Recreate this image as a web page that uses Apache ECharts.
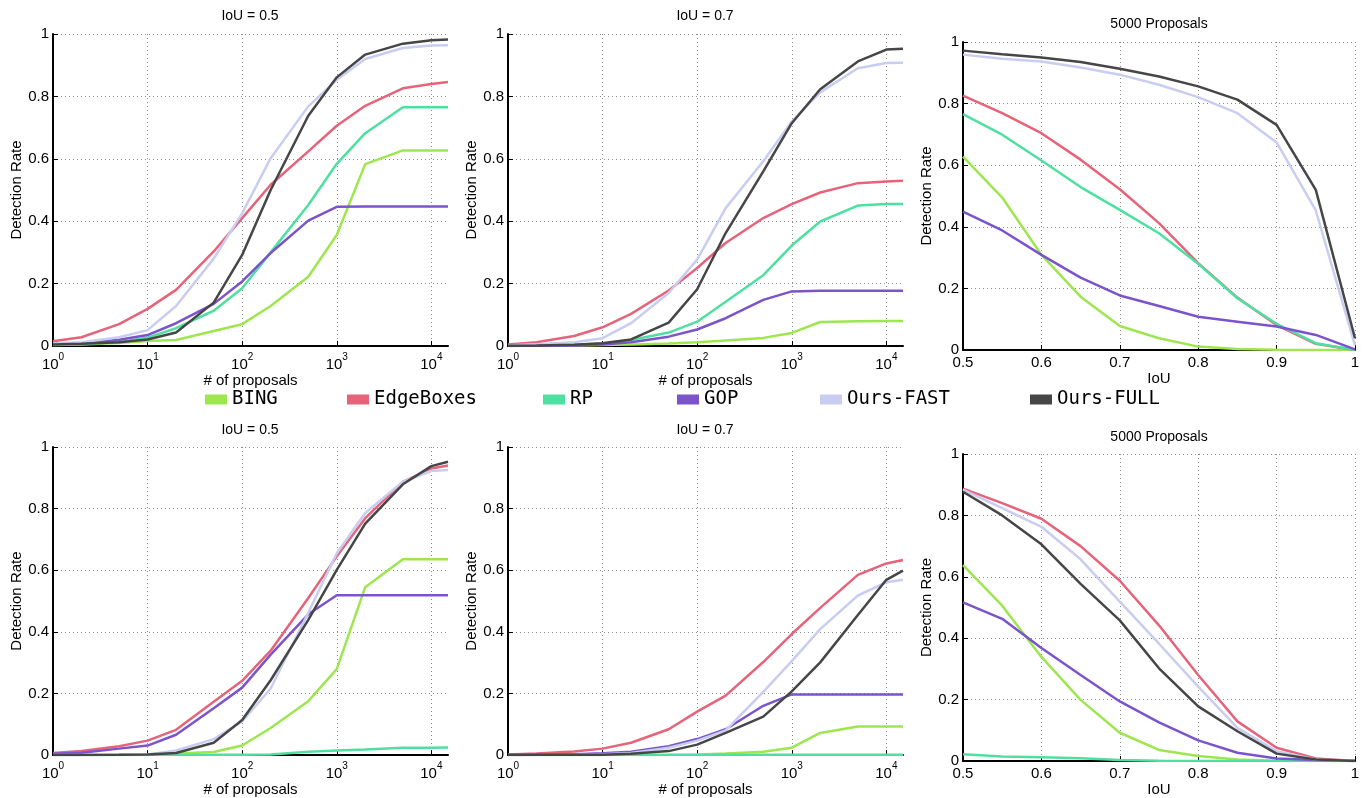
<!DOCTYPE html>
<html><head><meta charset="utf-8">
<script src="https://cdn.jsdelivr.net/npm/echarts@6/dist/echarts.min.js"></script>
<style>html,body{margin:0;padding:0;background:#fff}#c{width:1369px;height:798px}</style>
</head><body><div id="c"></div>
<script>
const methods = ['BING', 'EdgeBoxes', 'RP', 'GOP', 'Ours-FAST', 'Ours-FULL'];
const methodColors = ['#9ee64f', '#e6637a', '#4ee0a0', '#7b54cc', '#c9cdf1', '#464646'];
const proposals = [1, 2, 5, 10, 20, 50, 100, 200, 500, 1000, 2000, 5000, 10000, 15000];
const iouThresholds = [0.5, 0.55, 0.6, 0.65, 0.7, 0.75, 0.8, 0.85, 0.9, 0.95, 1.0];
const panelTitles = ['IoU = 0.5', 'IoU = 0.7', '5000 Proposals', 'IoU = 0.5', 'IoU = 0.7', '5000 Proposals'];

// series order: BING, EdgeBoxes, RP, GOP, Ours-FAST, Ours-FULL
const topIoU05 = [
  [0.003,0.005,0.010,0.016,0.019,0.048,0.070,0.128,0.222,0.356,0.583,0.627,0.627,0.627],
  [0.015,0.028,0.070,0.119,0.180,0.303,0.410,0.517,0.624,0.706,0.770,0.826,0.840,0.846],
  [0.005,0.007,0.012,0.027,0.057,0.113,0.185,0.300,0.452,0.584,0.682,0.765,0.765,0.765],
  [0.008,0.010,0.020,0.035,0.073,0.135,0.207,0.298,0.402,0.446,0.447,0.447,0.447,0.447],
  [0.008,0.012,0.028,0.051,0.128,0.280,0.425,0.602,0.768,0.853,0.920,0.955,0.963,0.964],
  [0.005,0.007,0.012,0.021,0.043,0.139,0.292,0.500,0.738,0.861,0.934,0.969,0.980,0.982]
];
const topIoU07 = [
  [0.000,0.001,0.002,0.003,0.005,0.008,0.012,0.018,0.026,0.042,0.077,0.079,0.080,0.080],
  [0.005,0.012,0.032,0.060,0.103,0.178,0.250,0.330,0.410,0.455,0.492,0.522,0.527,0.530],
  [0.001,0.002,0.004,0.008,0.019,0.043,0.078,0.142,0.227,0.322,0.399,0.450,0.455,0.455],
  [0.000,0.001,0.002,0.005,0.012,0.030,0.053,0.089,0.148,0.175,0.177,0.177,0.177,0.177],
  [0.002,0.006,0.012,0.025,0.073,0.170,0.277,0.442,0.592,0.720,0.813,0.890,0.907,0.908],
  [0.001,0.002,0.004,0.009,0.021,0.075,0.182,0.362,0.560,0.714,0.823,0.912,0.950,0.953]
];
const top5000 = [
  [0.628,0.495,0.309,0.173,0.078,0.038,0.011,0.003,0.001,0.000,0.000],
  [0.826,0.769,0.704,0.618,0.522,0.412,0.282,0.170,0.081,0.020,0.000],
  [0.766,0.699,0.615,0.529,0.455,0.379,0.280,0.168,0.085,0.022,0.000],
  [0.449,0.388,0.309,0.235,0.177,0.143,0.108,0.092,0.076,0.049,0.002],
  [0.959,0.946,0.937,0.917,0.894,0.861,0.821,0.769,0.674,0.453,0.015],
  [0.972,0.960,0.950,0.935,0.913,0.888,0.856,0.813,0.731,0.520,0.038]
];
const bottomIoU05 = [
  [0.000,0.000,0.000,0.001,0.005,0.010,0.031,0.088,0.175,0.279,0.545,0.636,0.636,0.636],
  [0.007,0.013,0.029,0.047,0.082,0.173,0.241,0.339,0.510,0.645,0.769,0.887,0.930,0.940],
  [0.000,0.000,0.000,0.000,0.000,0.001,0.001,0.002,0.011,0.015,0.018,0.024,0.024,0.025],
  [0.004,0.008,0.021,0.031,0.066,0.152,0.219,0.326,0.457,0.519,0.519,0.519,0.519,0.519],
  [0.000,0.000,0.001,0.002,0.015,0.052,0.109,0.216,0.462,0.655,0.786,0.887,0.922,0.925],
  [0.000,0.000,0.001,0.002,0.007,0.040,0.114,0.243,0.439,0.601,0.751,0.879,0.938,0.952]
];
const bottomIoU07 = [
  [0.000,0.000,0.000,0.000,0.000,0.001,0.002,0.005,0.011,0.024,0.072,0.093,0.093,0.093],
  [0.002,0.005,0.012,0.021,0.040,0.084,0.141,0.193,0.302,0.393,0.478,0.585,0.622,0.633],
  [0.000,0.000,0.000,0.000,0.000,0.000,0.000,0.001,0.001,0.001,0.001,0.001,0.001,0.001],
  [0.000,0.001,0.003,0.006,0.011,0.029,0.052,0.084,0.160,0.197,0.197,0.197,0.197,0.197],
  [0.000,0.000,0.001,0.003,0.007,0.024,0.047,0.080,0.205,0.305,0.409,0.518,0.561,0.569],
  [0.001,0.001,0.001,0.001,0.004,0.013,0.034,0.072,0.125,0.207,0.301,0.455,0.569,0.599]
];
const bottom5000 = [
  [0.638,0.506,0.339,0.199,0.092,0.036,0.016,0.005,0.001,0.000,0.000],
  [0.887,0.840,0.789,0.700,0.587,0.442,0.280,0.129,0.043,0.008,0.000],
  [0.022,0.015,0.012,0.009,0.003,0.001,0.000,0.000,0.000,0.000,0.000],
  [0.517,0.463,0.368,0.280,0.194,0.126,0.067,0.027,0.008,0.003,0.000],
  [0.884,0.824,0.763,0.657,0.519,0.382,0.242,0.108,0.032,0.005,0.000],
  [0.877,0.800,0.706,0.577,0.458,0.302,0.178,0.097,0.024,0.005,0.000]
];

const panels = [topIoU05, topIoU07, top5000, bottomIoU05, bottomIoU07, bottom5000];
const FONT = 'Liberation Sans, Arial, sans-serif';

const grids = [
  {left: 53, top: 34, width: 395, height: 312},
  {left: 508, top: 34, width: 395, height: 312},
  {left: 963, top: 42, width: 392, height: 308},
  {left: 53, top: 447, width: 395, height: 312},
  {left: 508, top: 447, width: 395, height: 312},
  {left: 963, top: 454, width: 392, height: 309}
];

const gridLine = {show: true, lineStyle: {type: [1, 3], color: '#8a8a8a', width: 1}};
const axisLine = {show: true, onZero: false, lineStyle: {color: '#000', width: 2}};
const axisTick = {show: true, inside: true, length: 5, lineStyle: {color: '#000', width: 1}};

const xAxes = grids.map((g, i) => {
  const isIoU = (i % 3) === 2;
  if (isIoU) {
    return {
      type: 'value', gridIndex: i, min: 0.5, max: 1, interval: 0.1,
      axisLine, axisTick, splitLine: gridLine,
      axisLabel: {color: '#000', fontSize: 15, fontFamily: FONT, margin: 5,
        formatter: v => (Math.abs(v - 1) < 1e-9 ? '1' : v.toFixed(1))},
      name: 'IoU', nameLocation: 'middle', nameGap: 21,
      nameTextStyle: {color: '#000', fontSize: 15, fontFamily: FONT}
    };
  }
  return {
    type: 'log', logBase: 10, gridIndex: i, min: 1, max: 15000,
    axisLine, axisTick,
    splitLine: Object.assign({showMaxLine: false}, gridLine),
    axisLabel: {color: '#000', margin: 3, showMaxLabel: false,
      formatter: v => '{b|10}{s|' + Math.round(Math.log10(v)) + '}',
      rich: {
        b: {fontSize: 15, fontFamily: FONT, color: '#000', padding: [8, 0, 0, 0]},
        s: {fontSize: 10, fontFamily: FONT, color: '#000', padding: [0, 0, 6, 0]}
      }},
    name: '# of proposals', nameLocation: 'middle', nameGap: 23,
    nameTextStyle: {color: '#000', fontSize: 15, fontFamily: FONT}
  };
});

const yAxes = grids.map((g, i) => ({
  type: 'value', gridIndex: i, min: 0, max: 1, interval: 0.2,
  axisLine, axisTick, splitLine: gridLine,
  axisLabel: {color: '#000', fontSize: 15, fontFamily: FONT, margin: 4},
  name: 'Detection Rate', nameLocation: 'middle', nameGap: 28,
  nameTextStyle: {color: '#000', fontSize: 15, fontFamily: FONT}
}));

const series = [];
panels.forEach((panel, p) => {
  const xs = (p % 3) === 2 ? iouThresholds : proposals;
  panel.forEach((vals, m) => {
    series.push({
      type: 'line', name: methods[m], xAxisIndex: p, yAxisIndex: p,
      data: vals.map((v, k) => [xs[k], v]),
      showSymbol: false, symbol: 'none', z: 2 + m,
      color: methodColors[m],
      lineStyle: {color: methodColors[m], width: 2.5},
      emphasis: {disabled: true}
    });
  });
});

const titleCenters = [[250, 9], [705, 9], [1159, 17], [250, 423], [705, 423], [1159, 430]];
const titles = panelTitles.map((t, i) => ({
  text: t, left: titleCenters[i][0], top: titleCenters[i][1], textAlign: 'center', padding: 0,
  textStyle: {fontSize: 14, fontWeight: 'normal', color: '#000', fontFamily: FONT}
}));

const legendLefts = [205, 347, 543, 677, 820, 1030];
const legends = methods.map((m, i) => ({
  data: [{name: m, icon: 'rect'}], left: legendLefts[i], top: 390, padding: 0,
  itemWidth: 22, itemHeight: 10, itemGap: 0, selectedMode: false,
  textStyle: {fontFamily: 'DejaVu Sans Mono, monospace', fontSize: 19, color: '#000', padding: [0, 0, 0, 0]}
}));

const chart = echarts.init(document.getElementById('c'), null, {renderer: 'canvas'});
chart.setOption({
  backgroundColor: '#fff',
  animation: false,
  title: titles,
  legend: legends,
  grid: grids,
  xAxis: xAxes,
  yAxis: yAxes,
  series
});
</script></body></html>
